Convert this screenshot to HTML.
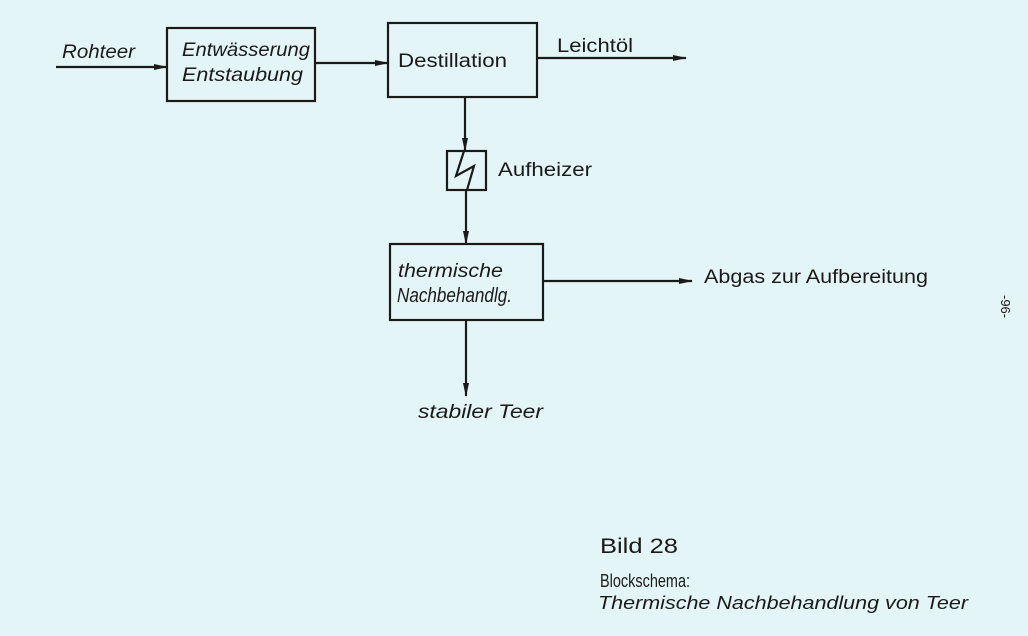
<!DOCTYPE html>
<html><head><meta charset="utf-8"><style>
body{margin:0;width:1028px;height:631px;background:#e4f5f7;overflow:hidden}
svg text{font-family:"Liberation Sans",sans-serif;fill:#1a1a1a}
</style></head><body>
<svg width="1028" height="631" viewBox="0 0 1028 631">
<defs><marker id="a" markerWidth="14" markerHeight="8" refX="13" refY="4" orient="auto" markerUnits="userSpaceOnUse"><path d="M0,1 L14,4 L0,7 Z" fill="#1a1a1a"/></marker></defs>
<g stroke="#1a1a1a" stroke-width="2.2" fill="none">
<rect x="167" y="28" width="148" height="73"/>
<rect x="388" y="23" width="149" height="74"/>
<rect x="447" y="151" width="39" height="39"/>
<rect x="390" y="244" width="153" height="76"/>
<line x1="56" y1="67" x2="167" y2="67" marker-end="url(#a)"/>
<line x1="315" y1="63" x2="388" y2="63" marker-end="url(#a)"/>
<line x1="537" y1="58" x2="686" y2="58" marker-end="url(#a)"/>
<line x1="465" y1="97" x2="465" y2="151" marker-end="url(#a)"/>
<line x1="466" y1="190" x2="466" y2="244" marker-end="url(#a)"/>
<line x1="543" y1="281" x2="692" y2="281" marker-end="url(#a)"/>
<line x1="466" y1="320" x2="466" y2="396" marker-end="url(#a)"/>
<path d="M464,151 L456,176 L474,166 L467,190"/>
</g>
<g font-size="19" font-style="italic">
<text x="62" y="58" textLength="73" lengthAdjust="spacingAndGlyphs">Rohteer</text>
<text x="182" y="56" textLength="128" lengthAdjust="spacingAndGlyphs">Entwässerung</text>
<text x="182" y="81" textLength="121" lengthAdjust="spacingAndGlyphs">Entstaubung</text>
<text x="398" y="67" font-style="normal" textLength="109" lengthAdjust="spacingAndGlyphs">Destillation</text>
<text x="557" y="52" font-style="normal" textLength="76" lengthAdjust="spacingAndGlyphs">Leichtöl</text>
<text x="498" y="176" font-style="normal" textLength="94" lengthAdjust="spacingAndGlyphs">Aufheizer</text>
<text x="398" y="277" textLength="105" lengthAdjust="spacingAndGlyphs">thermische</text>
<text x="397" y="302" font-size="20" textLength="115" lengthAdjust="spacingAndGlyphs">Nachbehandlg.</text>
<text x="704" y="283" font-style="normal" textLength="224" lengthAdjust="spacingAndGlyphs">Abgas zur Aufbereitung</text>
<text x="418" y="418" textLength="125" lengthAdjust="spacingAndGlyphs">stabiler Teer</text>
<text x="600" y="553" font-size="21" font-style="normal" textLength="78" lengthAdjust="spacingAndGlyphs">Bild 28</text>
<text x="600" y="587" font-size="18" font-style="normal" textLength="90" lengthAdjust="spacingAndGlyphs">Blockschema:</text>
<text x="598" y="609" font-size="18" textLength="370" lengthAdjust="spacingAndGlyphs">Thermische  Nachbehandlung von Teer</text>
<text x="0" y="0" font-size="13" font-style="normal" transform="translate(1001,295) rotate(90)">-96-</text>
</g>
</svg>
</body></html>
